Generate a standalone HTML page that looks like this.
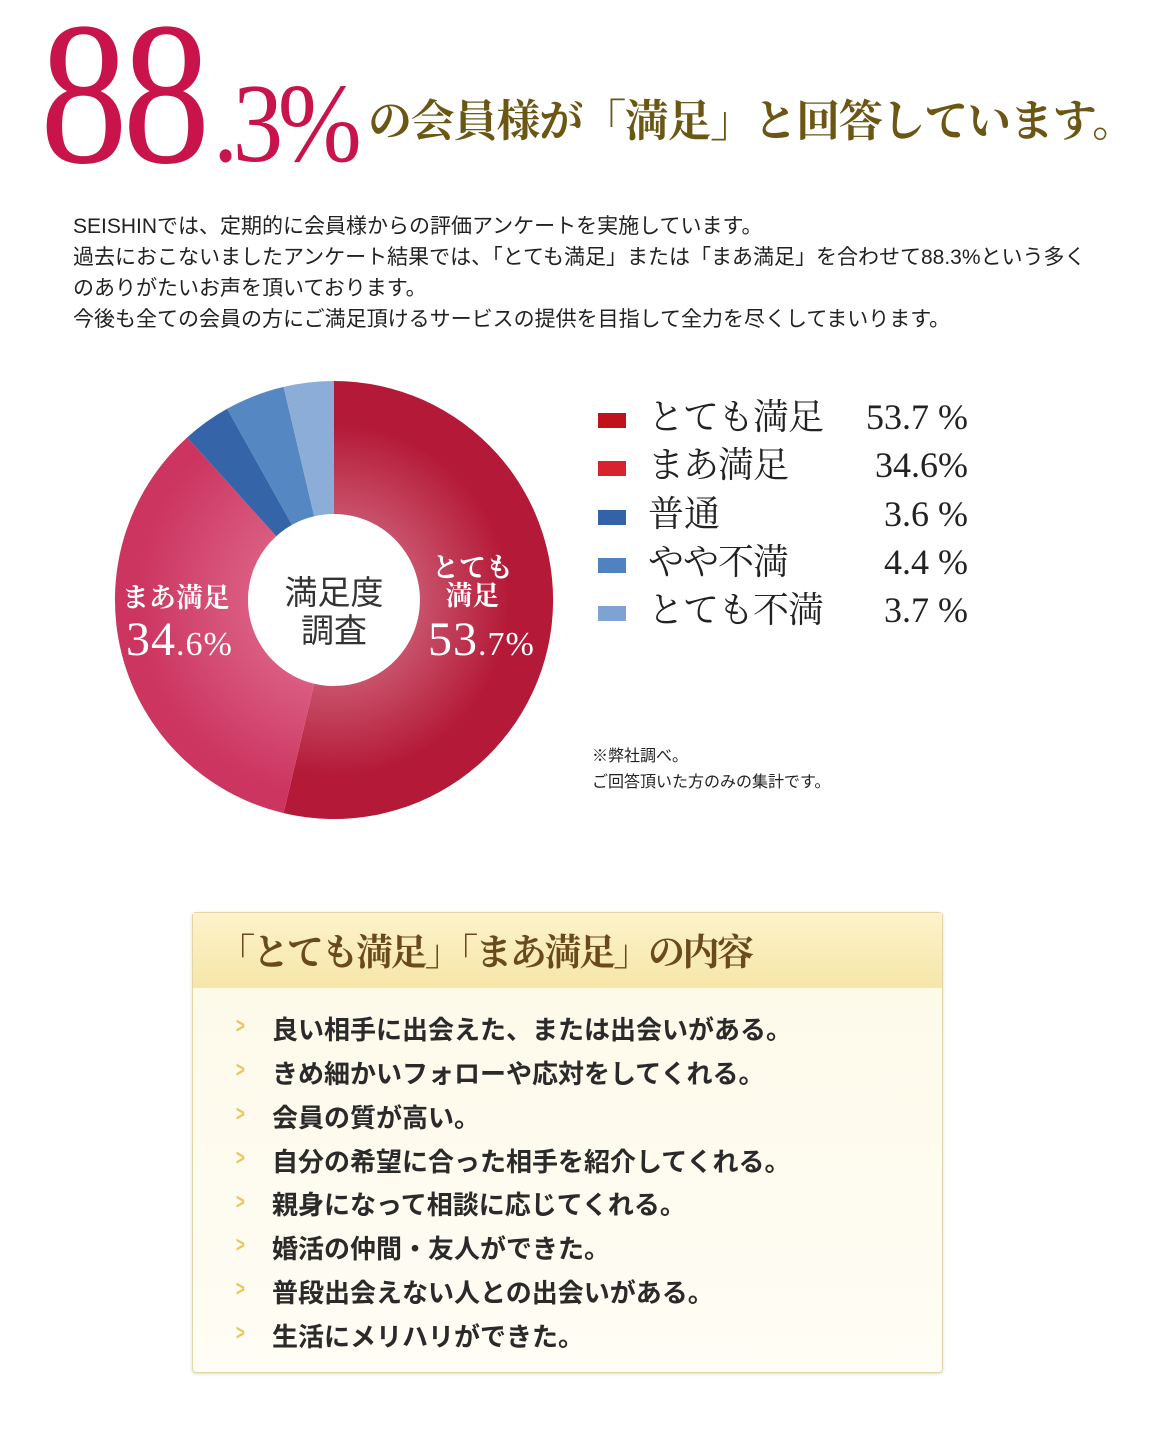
<!DOCTYPE html>
<html><head><meta charset="utf-8"><style>
*{margin:0;padding:0;box-sizing:border-box}
body{width:1162px;height:1443px;background:#fff;position:relative;overflow:hidden;font-family:"Liberation Sans","Noto Sans CJK JP",sans-serif}
.a{position:absolute;white-space:nowrap}
.serif{font-family:"Liberation Serif","Noto Serif CJK SC",serif}
.p{left:73px;font-size:21px;color:#222;line-height:31px}
.lg{font-family:"Liberation Serif","Noto Serif CJK SC",serif;font-size:36px;color:#222;line-height:40px}
.sq{position:absolute;left:598px;width:28px;height:15px}
.pc{position:absolute;right:194px;text-align:right}
.it{left:272px;font-size:26px;font-weight:bold;color:#2a2a2a;font-family:"Liberation Sans","Noto Sans CJK JP",sans-serif}
.ar{left:234px;color:#e8c75a;font-size:22px;font-weight:bold;transform:scaleX(.7)}
</style></head><body>
<div class="a serif" style="left:40px;top:-8px;font-size:204px;color:#c8144a;letter-spacing:-6px;line-height:204px;transform:scaleX(.86);transform-origin:0 0">88</div>
<div class="a serif" style="left:213px;top:68px;font-size:112px;color:#c8144a;letter-spacing:-6px;line-height:112px;transform:scaleX(.9);transform-origin:0 0">.3%</div>
<div class="a serif" style="left:368px;top:94px;font-size:44px;font-weight:bold;color:#6b5714;line-height:56px;letter-spacing:-1.2px">の会員様が「満足」と回答しています。</div>

<div class="a p" style="top:211px">SEISHINでは、定期的に会員様からの評価アンケートを実施しています。</div>
<div class="a p" style="top:242px">過去におこないましたアンケート結果では、「とても満足」または「まあ満足」を合わせて88.3%という多く</div>
<div class="a p" style="top:273px">のありがたいお声を頂いております。</div>
<div class="a p" style="top:304px">今後も全ての会員の方にご満足頂けるサービスの提供を目指して全力を尽くしてまいります。</div>

<svg class="a" style="left:0;top:0" width="1162" height="900">
<defs>
<radialGradient id="g1" cx="334" cy="600" r="219" gradientUnits="userSpaceOnUse"><stop offset="0.4" stop-color="#c8506a"/><stop offset="0.8" stop-color="#b41a37"/></radialGradient>
<radialGradient id="g2" cx="334" cy="600" r="219" gradientUnits="userSpaceOnUse"><stop offset="0.4" stop-color="#da5c80"/><stop offset="0.9" stop-color="#cc3560"/></radialGradient>
</defs>
<path d="M334,381 A219,219 0 1 1 283.6,813.1 L314.2,683.7 A86,86 0 1 0 334,514Z" fill="url(#g1)"/>
<path d="M283.6,813.1 A219,219 0 0 1 187.1,437.5 L276.3,536.2 A86,86 0 0 0 314.2,683.7Z" fill="url(#g2)"/>
<path d="M187.1,437.5 A219,219 0 0 1 227.1,408.8 L292,524.9 A86,86 0 0 0 276.3,536.2Z" fill="#3565a8"/>
<path d="M227.1,408.8 A219,219 0 0 1 283.6,386.9 L314.2,516.3 A86,86 0 0 0 292,524.9Z" fill="#5587c2"/>
<path d="M283.6,386.9 A219,219 0 0 1 334,381 L334,514 A86,86 0 0 0 314.2,516.3Z" fill="#8cadd8"/>
</svg>
<div class="a" style="left:280px;top:574px;font-size:33px;color:#333;line-height:38px;text-align:center;width:108px">満足度<br>調査</div>
<div class="a serif" style="left:122px;top:576px;font-size:27px;font-weight:bold;color:#fff">まあ満足</div>
<div class="a serif" style="left:126px;top:612px;font-size:48px;color:#fff;letter-spacing:1px">34<span style="font-size:34px">.6%</span></div>
<div class="a serif" style="left:432px;top:554px;font-size:27px;font-weight:bold;color:#fff;line-height:28px;text-align:center">とても<br>満足</div>
<div class="a serif" style="left:428px;top:612px;font-size:48px;color:#fff;letter-spacing:1px">53<span style="font-size:34px">.7%</span></div>

<div class="sq" style="top:413px;background:#c0111c"></div>
<div class="sq" style="top:461px;background:#d8222f"></div>
<div class="sq" style="top:510px;background:#3462a8"></div>
<div class="sq" style="top:558px;background:#5082c0"></div>
<div class="sq" style="top:606px;background:#7ea3d2"></div>
<div class="a lg" style="left:648px;top:397px;letter-spacing:-1px">とても満足</div>
<div class="a lg" style="left:648px;top:445px;letter-spacing:-1px">まあ満足</div>
<div class="a lg" style="left:648px;top:494px">普通</div>
<div class="a lg" style="left:648px;top:542px;letter-spacing:-1px">やや不満</div>
<div class="a lg" style="left:648px;top:590px;letter-spacing:-1px">とても不満</div>
<div class="pc lg" style="top:397px">53.7 %</div>
<div class="pc lg" style="top:445px">34.6%</div>
<div class="pc lg" style="top:494px">3.6 %</div>
<div class="pc lg" style="top:542px">4.4 %</div>
<div class="pc lg" style="top:590px">3.7 %</div>
<div class="a" style="left:592px;top:744px;font-size:16px;color:#222;line-height:26px">※弊社調べ。<br>ご回答頂いた方のみの集計です。</div>

<div class="a" style="left:192px;top:912px;width:751px;height:461px;border:1px solid #e0d6a8;border-radius:4px;background:linear-gradient(#fdf9e8,#fffdf5);box-shadow:0 1px 3px rgba(0,0,0,.15)"></div>
<div class="a" style="left:193px;top:913px;width:749px;height:75px;background:linear-gradient(#fdf3cc,#f6e6a8)"></div>
<div class="a serif" style="left:218px;top:928px;font-size:37px;font-weight:bold;color:#6a4a1c;letter-spacing:-2.5px;line-height:52px">「とても満足」「まあ満足」の内容</div>
<div class="a ar" style="top:1013px">&gt;</div><div class="a it" style="top:1010px">良い相手に出会えた、または出会いがある。</div>
<div class="a ar" style="top:1057px">&gt;</div><div class="a it" style="top:1054px">きめ細かいフォローや応対をしてくれる。</div>
<div class="a ar" style="top:1101px">&gt;</div><div class="a it" style="top:1098px">会員の質が高い。</div>
<div class="a ar" style="top:1145px">&gt;</div><div class="a it" style="top:1142px">自分の希望に合った相手を紹介してくれる。</div>
<div class="a ar" style="top:1189px">&gt;</div><div class="a it" style="top:1185px">親身になって相談に応じてくれる。</div>
<div class="a ar" style="top:1232px">&gt;</div><div class="a it" style="top:1229px">婚活の仲間・友人ができた。</div>
<div class="a ar" style="top:1276px">&gt;</div><div class="a it" style="top:1273px">普段出会えない人との出会いがある。</div>
<div class="a ar" style="top:1320px">&gt;</div><div class="a it" style="top:1317px">生活にメリハリができた。</div>
</body></html>
